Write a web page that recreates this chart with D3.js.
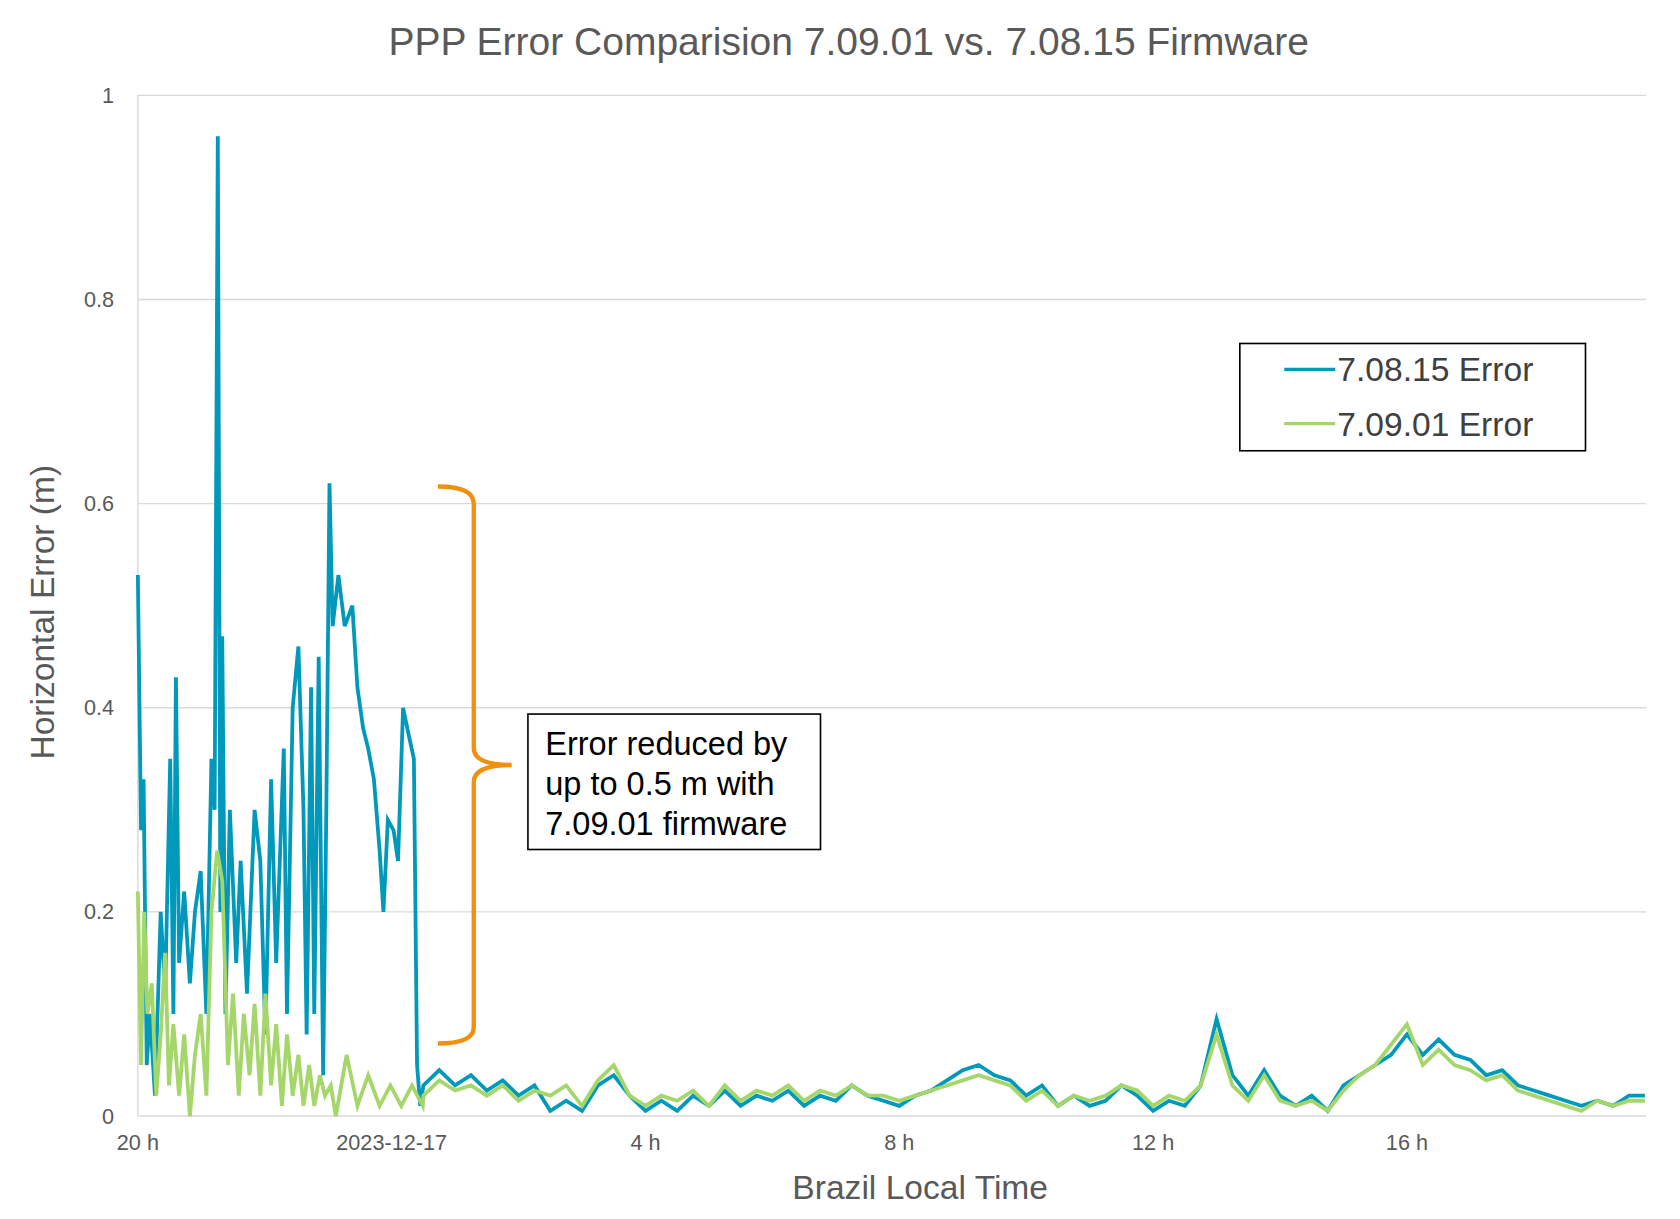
<!DOCTYPE html>
<html><head><meta charset="utf-8">
<script src="https://cdn.jsdelivr.net/npm/d3@7"></script>
<style>body{margin:0;background:#fff}text{font-family:Arial,"Liberation Sans",sans-serif}</style>
</head><body>
<svg id="chart" width="1680" height="1219" viewBox="0 0 1550 1125"></svg>
<script>
// hours since 20 h on 2023-12-16
var blueHeadT = [0,0.05,0.09,0.14,0.19,0.27,0.36,0.43,0.51,0.56,0.60,0.65,0.73,0.82,0.90,0.99,1.08,1.16,1.21,1.26,1.30,1.33,1.38,1.45,1.55,1.62,1.72,1.84,1.93,2.01,2.10,2.18,2.30,2.35,2.44,2.53,2.61,2.66,2.73,2.78,2.85,2.92,2.97,3.02,3.07,3.16,3.26,3.38,3.46,3.55,3.63,3.72,3.81,3.87,3.94,4.03,4.10,4.18,4.28,4.35,4.40,4.45];
var blueHeadV = [0.53,0.28,0.33,0.05,0.1,0.02,0.2,0.12,0.35,0.1,0.43,0.15,0.22,0.13,0.2,0.24,0.1,0.35,0.3,0.96,0.2,0.47,0.1,0.3,0.15,0.25,0.12,0.3,0.25,0.08,0.33,0.15,0.36,0.1,0.4,0.46,0.3,0.08,0.42,0.1,0.45,0.04,0.3,0.62,0.48,0.53,0.48,0.5,0.42,0.38,0.36,0.33,0.26,0.2,0.29,0.28,0.25,0.4,0.37,0.35,0.05,0.01];
var greenHeadT = [0,0.05,0.10,0.15,0.22,0.29,0.36,0.43,0.49,0.56,0.65,0.73,0.82,0.90,0.99,1.08,1.16,1.25,1.33,1.42,1.50,1.59,1.67,1.76,1.84,1.93,2.01,2.10,2.18,2.27,2.35,2.44,2.53,2.61,2.70,2.78,2.87,2.95,3.04,3.12,3.29,3.46,3.63,3.81,3.98,4.15,4.32,4.49];
var greenHeadV = [0.22,0.05,0.2,0.1,0.13,0.02,0.08,0.16,0.03,0.09,0.02,0.08,0.0,0.06,0.1,0.02,0.2,0.26,0.23,0.05,0.12,0.02,0.1,0.04,0.11,0.02,0.12,0.03,0.09,0.01,0.08,0.02,0.06,0.01,0.05,0.01,0.04,0.02,0.03,0.0,0.06,0.01,0.04,0.01,0.03,0.01,0.03,0.01];
// from 4.5 h onward, one reading every 15 min
var blueTailV = [0.03,0.045,0.03,0.04,0.025,0.035,0.02,0.03,0.005,0.015,0.005,0.03,0.04,0.02,0.005,0.015,0.005,0.02,0.01,0.025,0.01,0.02,0.015,0.025,0.01,0.02,0.015,0.03,0.02,0.015,0.01,0.02,0.025,0.035,0.045,0.05,0.04,0.035,0.02,0.03,0.01,0.02,0.01,0.015,0.03,0.02,0.005,0.015,0.01,0.03,0.095,0.04,0.02,0.045,0.02,0.01,0.02,0.005,0.03,0.04,0.05,0.06,0.08,0.06,0.075,0.06,0.055,0.04,0.045,0.03,0.025,0.02,0.015,0.01,0.015,0.01,0.02,0.02];
var greenTailV = [0.02,0.035,0.025,0.03,0.02,0.03,0.015,0.025,0.02,0.03,0.01,0.035,0.05,0.02,0.01,0.02,0.015,0.025,0.01,0.03,0.015,0.025,0.02,0.03,0.015,0.025,0.02,0.03,0.02,0.02,0.015,0.02,0.025,0.03,0.035,0.04,0.035,0.03,0.015,0.025,0.01,0.02,0.015,0.02,0.03,0.025,0.01,0.02,0.015,0.03,0.08,0.03,0.015,0.04,0.015,0.01,0.015,0.005,0.025,0.04,0.05,0.07,0.09,0.05,0.065,0.05,0.045,0.035,0.04,0.025,0.02,0.015,0.01,0.005,0.015,0.01,0.015,0.015];
var tickHours = [0,4,8,12,16,20];
var tickLabels = ["20 h","2023-12-17","4 h","8 h","12 h","16 h"];
var yTicks = [0,0.2,0.4,0.6,0.8,1];

function series(ht, hv, tv) {
    var pts = ht.map(function(t, i) { return [t, hv[i]]; });
    tv.forEach(function(v, i) { pts.push([4.5 + i * 0.25, v]); });
    return pts;
}
var blue = series(blueHeadT, blueHeadV, blueTailV);
var green = series(greenHeadT, greenHeadV, greenTailV);

var svg = d3.select("#chart");
var x = d3.scaleLinear().domain([0, 23.77]).range([127, 1519]);
var y = d3.scaleLinear().domain([0, 1]).range([1030, 88]);

svg.selectAll("line.grid").data(yTicks).enter().append("line")
    .attr("x1", 127).attr("x2", 1519)
    .attr("y1", function(d) { return y(d); }).attr("y2", function(d) { return y(d); })
    .style("stroke", "#d9d9d9").style("stroke-width", "1.3px");
svg.append("line").attr("x1", 127).attr("x2", 127).attr("y1", 88).attr("y2", 1030)
    .style("stroke", "#d9d9d9").style("stroke-width", "1.3px");

svg.selectAll("text.yt").data(yTicks).enter().append("text")
    .attr("x", 105).attr("y", function(d) { return y(d) + 7; })
    .attr("text-anchor", "end").style("font-size", "20px").style("fill", "#595959")
    .text(function(d) { return d; });
svg.selectAll("text.xt").data(tickHours).enter().append("text")
    .attr("x", function(d) { return x(d); }).attr("y", 1061)
    .attr("text-anchor", "middle").style("font-size", "20px").style("fill", "#595959")
    .text(function(d, i) { return tickLabels[i]; });

var line = d3.line().x(function(d) { return x(d[0]); }).y(function(d) { return y(d[1]); });
svg.append("path").attr("d", line(blue)).style("fill", "none").style("stroke", "#0099bb").style("stroke-width", "3.5px");
svg.append("path").attr("d", line(green)).style("fill", "none").style("stroke", "#a5d66a").style("stroke-width", "3.5px");

svg.append("text").attr("x", 783).attr("y", 51).attr("text-anchor", "middle")
    .style("font-size", "36px").style("fill", "#595959").text("PPP Error Comparision 7.09.01 vs. 7.08.15 Firmware");
svg.append("text").attr("x", 849).attr("y", 1107).attr("text-anchor", "middle")
    .style("font-size", "31px").style("fill", "#595959").text("Brazil Local Time");
svg.append("text").attr("transform", "translate(50,565) rotate(-90)").attr("text-anchor", "middle")
    .style("font-size", "31px").style("fill", "#595959").text("Horizontal Error (m)");

// legend
svg.append("rect").attr("x", 1144).attr("y", 317).attr("width", 319).attr("height", 99)
    .style("fill", "#fff").style("stroke", "#000").style("stroke-width", "1.5px");
[["7.08.15 Error", "#0099bb", 341], ["7.09.01 Error", "#a5d66a", 391]].forEach(function(l) {
    svg.append("line").attr("x1", 1185).attr("x2", 1232).attr("y1", l[2]).attr("y2", l[2])
        .style("stroke", l[1]).style("stroke-width", "3px");
    svg.append("text").attr("x", 1234).attr("y", l[2] + 11).style("font-size", "31px").style("fill", "#404040").text(l[0]);
});

// brace + note
svg.append("path")
    .attr("d", "M404,449 Q437,449 437,465 L437,690 Q437,706 472,706 Q437,706 437,722 L437,948 Q437,963 404,963")
    .style("fill", "none").style("stroke", "#f0900f").style("stroke-width", "4px");
svg.append("rect").attr("x", 487).attr("y", 659).attr("width", 270).attr("height", 125)
    .style("fill", "#fff").style("stroke", "#000").style("stroke-width", "1.5px");
["Error reduced by", "up to 0.5 m with", "7.09.01 firmware"].forEach(function(t, i) {
    svg.append("text").attr("x", 503).attr("y", 697 + i * 37).style("font-size", "30px").style("fill", "#000").text(t);
});
</script>
</body></html>
